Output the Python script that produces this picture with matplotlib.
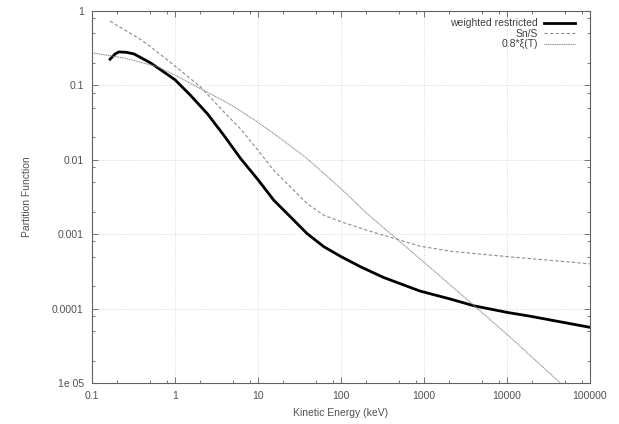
import matplotlib
matplotlib.use("Agg")
import matplotlib.pyplot as plt
from matplotlib.ticker import FixedLocator, NullFormatter

plt.rcParams['font.family'] = ['Liberation Sans', 'DejaVu Sans']

# weighted restricted (thick black)
wr_e = [0.165, 0.19, 0.211, 0.26, 0.32, 0.51, 0.73, 1.0, 1.54, 2.45, 3.88, 6.17, 10, 15.5,
        24.6, 39, 62, 100, 171, 326, 897, 2100, 4000, 10000, 19000, 100000]
wr_v = [0.225, 0.265, 0.282, 0.278, 0.265, 0.2, 0.152, 0.119, 0.0734, 0.0417, 0.0213, 0.0104,
        0.0054, 0.00286, 0.00171, 0.00102, 0.00068, 0.0005, 0.000366, 0.000262, 0.000172,
        0.000134, 0.000109, 0.000089, 0.000079, 0.000056]

# Sn/S (dashed)
sn_e = [0.165, 0.39, 0.51, 1.0, 2.04, 3.88, 6.17, 10, 15.5, 24.6, 39, 62, 100, 205, 516, 897,
        2100, 4000, 10000, 19000, 100000]
sn_v = [0.73, 0.41, 0.33, 0.182, 0.095, 0.044, 0.026, 0.0134, 0.0072, 0.00431, 0.00258, 0.0018,
        0.00147, 0.00113, 0.00083, 0.00069, 0.00059, 0.00055, 0.0005, 0.00047, 0.0004]

# 0.8*xi(T) (dotted)
xi_e = [0.1, 0.243, 0.62, 1.0, 2.04, 3.87, 5.1, 10, 20.4, 39, 100, 205, 516, 1000, 4000,
        11000, 44000]
xi_v = [0.274, 0.234, 0.178, 0.138, 0.09, 0.062, 0.052, 0.032, 0.018, 0.0104, 0.0041, 0.0019,
        0.00079, 0.00042, 0.00011, 0.000041, 0.00001]

x_ticks = [0.1, 1, 10, 100, 1000, 10000, 100000]
x_labels = ["0.1", "1", "10", "100", "1000", "10000", "100000"]
y_ticks = [1e-5, 1e-4, 1e-3, 1e-2, 1e-1, 1]
y_labels = ["1e 05", "0.0001", "0.001", "0.01", "0.1", "1"]

fig = plt.figure(figsize=(6.19, 4.24), dpi=100)
ax = fig.add_axes([92/619, 1 - 383/424, (590 - 92)/619, (383 - 11)/424])

ax.plot(wr_e, wr_v, color="black", lw=2.0, label="weighted restricted")
ax.plot(sn_e, sn_v, color="#8c8c8c", lw=0.8, linestyle=(0, (3, 2)), label="Sn/S")
ax.plot(xi_e, xi_v, color="#8c8c8c", lw=0.8, linestyle=(0, (1, 0.6)), label="0.8*\u03be(T)")

ax.set_xscale("log")
ax.set_yscale("log")
ax.set_xlim(0.1, 100000)
ax.set_ylim(1e-5, 1)

ax.xaxis.set_major_locator(FixedLocator(x_ticks))
ax.set_xticklabels(x_labels)
ax.yaxis.set_major_locator(FixedLocator(y_ticks))
ax.set_yticklabels(y_labels)
minor_x = [d * s for d in x_ticks[:-1] for s in (2, 5, 8)]
minor_y = [d * s for d in y_ticks[:-1] for s in (2, 5, 8)]
ax.xaxis.set_minor_locator(FixedLocator(minor_x))
ax.yaxis.set_minor_locator(FixedLocator(minor_y))
ax.xaxis.set_minor_formatter(NullFormatter())
ax.yaxis.set_minor_formatter(NullFormatter())

ax.tick_params(which="both", direction="in", top=True, right=True, colors="#606060",
               labelcolor="#505050", labelsize=7.5, width=0.6)
ax.tick_params(which="major", length=4, pad=6)
ax.tick_params(which="minor", length=2.5)
for s in ax.spines.values():
    s.set_color("#606060")
    s.set_linewidth(0.8)

ax.grid(True, which="major", color="#c8c8c8", linestyle=(0, (1, 2)), lw=0.6)

ax.set_xlabel("Kinetic Energy (keV)", fontsize=7.5, color="#505050", labelpad=5)
ax.set_ylabel("Partition Function", fontsize=7.5, color="#505050", labelpad=14)

leg = ax.legend(loc="upper right", frameon=False, markerfirst=False, fontsize=7.5,
                handlelength=3.0, handletextpad=0.6, labelspacing=0.05,
                borderaxespad=0.3, bbox_to_anchor=(0.985, 1.0))
for t in leg.get_texts():
    t.set_color("#404040")

fig.savefig("out.png", dpi=100)
